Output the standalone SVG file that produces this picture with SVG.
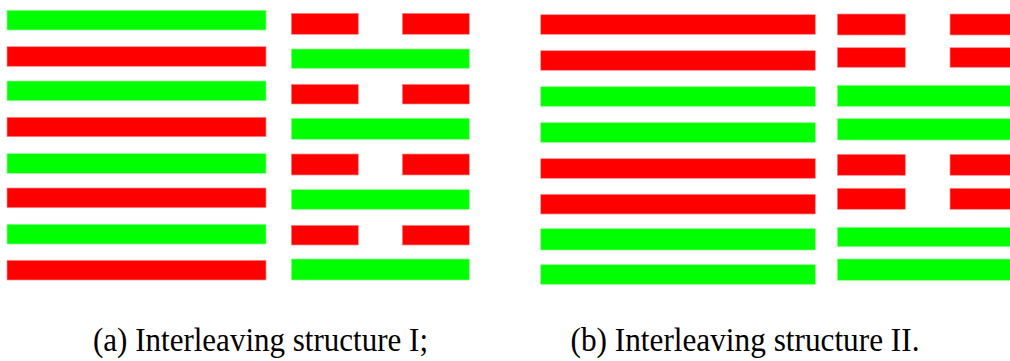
<svg xmlns="http://www.w3.org/2000/svg" width="1010" height="361" viewBox="0 0 1010 361">
<style>
.r{fill:#ff0000;stroke:#ff8c8c;stroke-width:0.7}
.g{fill:#00ff00;stroke:#8cff8c;stroke-width:0.7}
.cap{font-family:"Liberation Serif","Times New Roman",serif;font-size:33.5px;fill:#000}
</style>
<rect width="1010" height="361" fill="#fff"/>
<g id="panel-a-left">
<rect class="g" x="7" y="10.3" width="259" height="19.7"/>
<rect class="r" x="7" y="46.7" width="259" height="19.6"/>
<rect class="g" x="7" y="81" width="259" height="19.7"/>
<rect class="r" x="7" y="117.3" width="259" height="19.4"/>
<rect class="g" x="7" y="153.7" width="259" height="19.6"/>
<rect class="r" x="7" y="188" width="259" height="19.7"/>
<rect class="g" x="7" y="224.3" width="259" height="19.7"/>
<rect class="r" x="7" y="260.3" width="259" height="19.7"/>
</g>
<g id="panel-a-right">
<rect class="r" x="291.3" y="13.3" width="67" height="21"/>
<rect class="r" x="402.3" y="13.3" width="67" height="21"/>
<rect class="g" x="291.3" y="49" width="178" height="19.3"/>
<rect class="r" x="291.3" y="84.3" width="67" height="19.7"/>
<rect class="r" x="402.3" y="84.3" width="67" height="19.7"/>
<rect class="g" x="291.3" y="118.3" width="178" height="21"/>
<rect class="r" x="291.3" y="154" width="67" height="21"/>
<rect class="r" x="402.3" y="154" width="67" height="21"/>
<rect class="g" x="291.3" y="189.7" width="178" height="19.6"/>
<rect class="r" x="291.3" y="225.3" width="67" height="19.7"/>
<rect class="r" x="402.3" y="225.3" width="67" height="19.7"/>
<rect class="g" x="291.3" y="259" width="178" height="21"/>
</g>
<g id="panel-b-left">
<rect class="r" x="540.7" y="14.7" width="274.6" height="19.6"/>
<rect class="r" x="540.7" y="50.7" width="274.6" height="19.6"/>
<rect class="g" x="540.7" y="86.7" width="274.6" height="19.6"/>
<rect class="g" x="540.7" y="122.7" width="274.6" height="19.6"/>
<rect class="r" x="540.7" y="158.7" width="274.6" height="19.6"/>
<rect class="r" x="540.7" y="194.3" width="274.6" height="19.7"/>
<rect class="g" x="540.7" y="228.7" width="274.6" height="21.3"/>
<rect class="g" x="540.7" y="264.7" width="274.6" height="19.6"/>
</g>
<g id="panel-b-right">
<rect class="r" x="837.3" y="14" width="68" height="21"/>
<rect class="r" x="950" y="14" width="70" height="21"/>
<rect class="r" x="837.3" y="47.7" width="68" height="19.6"/>
<rect class="r" x="950" y="47.7" width="70" height="19.6"/>
<rect class="g" x="837.3" y="85.3" width="183" height="21"/>
<rect class="g" x="837.3" y="118.7" width="183" height="21.3"/>
<rect class="r" x="837.3" y="154.3" width="68" height="21"/>
<rect class="r" x="950" y="154.3" width="70" height="21"/>
<rect class="r" x="837.3" y="188.3" width="68" height="21"/>
<rect class="r" x="950" y="188.3" width="70" height="21"/>
<rect class="g" x="837.3" y="227.3" width="183" height="19.4"/>
<rect class="g" x="837.3" y="259" width="183" height="21.3"/>
</g>
<g id="captions">
<text class="cap" x="93" y="350.5" textLength="335" lengthAdjust="spacingAndGlyphs">(a) Interleaving structure I;</text>
<text class="cap" x="570.5" y="350.5" textLength="349" lengthAdjust="spacingAndGlyphs">(b) Interleaving structure II.</text>
</g>
</svg>
